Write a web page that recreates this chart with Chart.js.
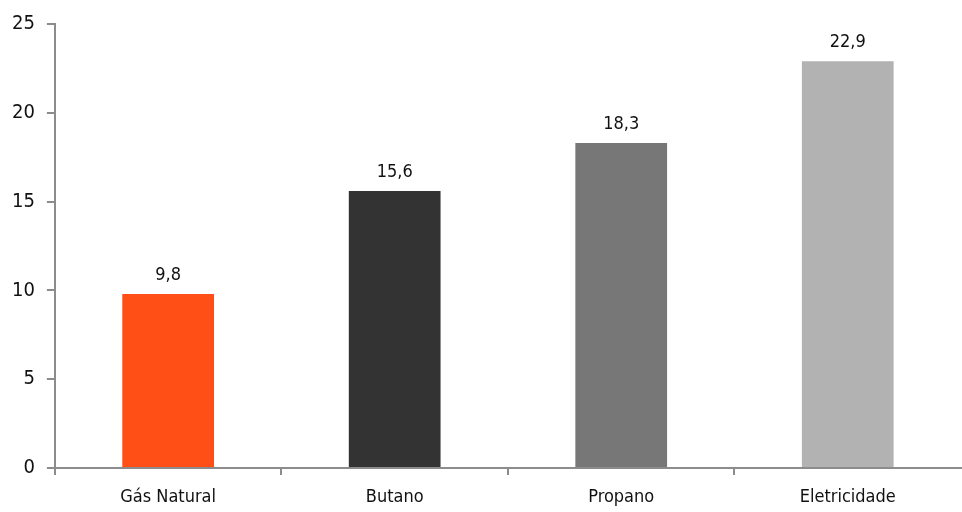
<!DOCTYPE html>
<html>
<head>
<meta charset="utf-8">
<script src="https://cdn.jsdelivr.net/npm/chart.js@4.4.0/dist/chart.umd.min.js"></script>
<style>
  html, body { margin: 0; padding: 0; background: #fff; }
  #box { width: 962px; height: 512px; }
</style>
</head>
<body>
<div id="box"><canvas id="chart"></canvas></div>
<script>
// data
const categories = ["Gás Natural", "Butano", "Propano", "Eletricidade"];
const values = [9.8, 15.6, 18.3, 22.9];
const barColors = ["#FF4F17", "#333333", "#777777", "#B2B2B2"];
const yTicks = [0, 5, 10, 15, 20, 25];

// narrow face, the original uses a condensed display font
const fontFamily = "'DejaVu Sans Condensed', 'Liberation Sans Narrow', sans-serif";
const axisGrey = '#8c8c8c';

// labels above bars, comma decimal
const valueLabels = {
  id: 'valueLabels',
  afterDatasetsDraw(chart) {
    const ctx = chart.ctx;
    const meta = chart.getDatasetMeta(0);
    ctx.save();
    ctx.font = "condensed 18px " + fontFamily;
    ctx.fillStyle = '#111';
    ctx.textAlign = 'center';
    ctx.textBaseline = 'bottom';
    meta.data.forEach((bar, i) => {
      ctx.fillText(values[i].toFixed(1).replace('.', ','), bar.x, bar.y - 10);
    });
    ctx.restore();
  }
};

let chart = new Chart(document.getElementById('chart').getContext('2d'), {
  type: 'bar',
  data: {
    labels: categories,
    datasets: [{
      data: values,
      backgroundColor: barColors,
      borderWidth: 0,
      barPercentage: 0.405,
      categoryPercentage: 1
    }]
  },
  options: {
    responsive: true,
    maintainAspectRatio: false,
    animation: false,
    layout: { padding: { top: 11, right: 1, left: 0, bottom: 0 } },
    plugins: {
      legend: { display: false },
      tooltip: { enabled: false }
    },
    scales: {
      x: {
        afterFit: axis => { axis.height = 44; },
        grid: {
          offset: true, drawOnChartArea: false, tickLength: 7, lineWidth: 2,
          // no tick at the far right end
          tickColor: c => (c.type !== 'tick') ? 'rgba(0,0,0,0)' : axisGrey
        },
        border: { color: axisGrey, width: 2 },
        ticks: { color: '#111', font: { family: fontFamily, size: 18, style: 'condensed' }, padding: 12 }
      },
      y: {
        min: 0,
        max: 25,
        afterBuildTicks: axis => { axis.ticks = yTicks.map(v => ({ value: v })); },
        grid: { drawOnChartArea: false, tickLength: 8, tickColor: axisGrey, lineWidth: 2 },
        border: { color: axisGrey, width: 2 },
        ticks: { color: '#111', font: { family: fontFamily, size: 20, style: 'condensed' }, padding: 12 }
      }
    }
  },
  plugins: [valueLabels]
});
</script>
</body>
</html>
